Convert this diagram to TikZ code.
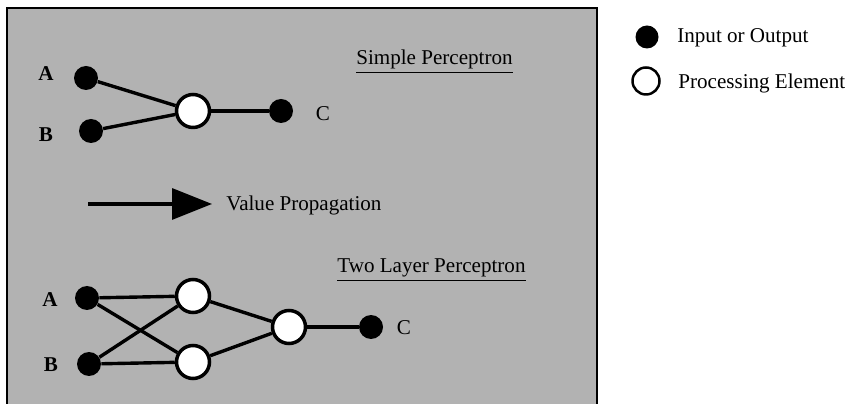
\documentclass[tikz,border=0pt]{standalone}
\usepackage{fontspec}
\setmainfont{Liberation Serif}
\usetikzlibrary{arrows.meta}

\begin{document}
\begin{tikzpicture}[x=0.02cm, y=-0.02cm, >={Triangle[length=0.8cm, width=0.62cm]},
    iodot/.style={circle, fill=black, inner sep=0pt, minimum size=0.48cm},
    pelem/.style={circle, draw=black, fill=white, line width=0.07cm, inner sep=0pt, minimum size=0.66cm},
    lbl/.style={inner sep=0pt, font=\fontsize{12}{14}\selectfont},
    wire/.style={line width=0.068cm}]
    \useasboundingbox (0,0) rectangle (854,404);

    % Panel
    \draw[line width=0.045cm, fill=black!30] (7,440) -- (7,8) -- (597,8) -- (597,440);

    % Simple perceptron
    \node[lbl, anchor=base west] (simpleT) at (356,65) {\underline{Simple Perceptron}};
    \node[iodot] (sA) at (86,78) {};
    \node[iodot] (sB) at (91,131) {};
    \node[pelem] (sP) at (193,111) {};
    \node[iodot] (sC) at (281,111) {};
    \node[lbl, font=\fontsize{12}{14}\selectfont\bfseries] (sAl) at (46,74) {A};
    \node[lbl, font=\fontsize{12}{14}\selectfont\bfseries] (sBl) at (46,135) {B};
    \node[lbl] (sCl) at (323,114) {C};
    \draw[wire] (sA) -- (sP);
    \draw[wire] (sB) -- (sP);
    \draw[wire] (sP) -- (sC);

    % Direction of flow
    \node[lbl, anchor=west] (valprop) at (226,205) {Value Propagation};
    \coordinate (vstart) at (88,204);
    \draw[->, line width=0.065cm] (vstart) -- ([xshift=-0.28cm]valprop.west |- vstart);

    % Two layer perceptron
    \node[lbl, anchor=base west] (twoT) at (337,273) {\underline{Two Layer Perceptron}};
    \node[iodot] (tA) at (87,298) {};
    \node[iodot] (tB) at (89,364) {};
    \node[pelem] (tH1) at (193,296) {};
    \node[pelem] (tH2) at (193,362) {};
    \node[pelem] (tO) at (289,327) {};
    \node[iodot] (tC) at (371,327) {};
    \node[lbl, font=\fontsize{12}{14}\selectfont\bfseries] (tAl) at (50,300) {A};
    \node[lbl, font=\fontsize{12}{14}\selectfont\bfseries] (tBl) at (51,365) {B};
    \node[lbl] (tCl) at (404,328) {C};
    \draw[wire] (tA) -- (tH1);
    \draw[wire] (tA) -- (tH2);
    \draw[wire] (tB) -- (tH1);
    \draw[wire] (tB) -- (tH2);
    \draw[wire] (tH1) -- (tO);
    \draw[wire] (tH2) -- (tO);
    \draw[wire] (tO) -- (tC);

    % Legend
    \node[iodot, minimum size=0.46cm] (keyIO) at (647,37) {};
    \node[lbl, anchor=west] (keyIOt) at (677,38) {Input or Output};
    \node[circle, draw=black, line width=0.05cm, inner sep=0pt, minimum size=0.54cm] (keyPE) at (646,81) {};
    \node[lbl, anchor=west] (keyPEt) at (678,83) {Processing Element};
\end{tikzpicture}
\end{document}
